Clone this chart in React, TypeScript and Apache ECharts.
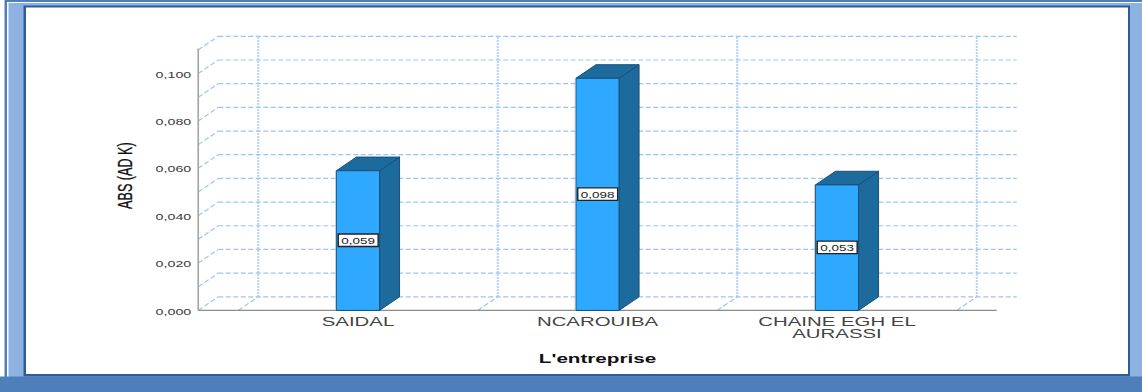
import React, { useEffect, useRef } from "react";
import * as echarts from "echarts";

// Company means of ABS (AD K)
const categories = ["SAIDAL", "NCAROUIBA", "CHAINE EGH EL\nAURASSI"];
const values = [0.059, 0.098, 0.053];
const yLabelTicks = [0, 0.02, 0.04, 0.06, 0.08, 0.1];
const wallTicks = [0, 0.01, 0.02, 0.03, 0.04, 0.05, 0.06, 0.07, 0.08, 0.09, 0.1, 0.11];
const yTitle = "ABS (AD K)";
const xTitle = "L'entreprise";

// Oblique offset of the 3D box and of the back wall
const DX = 20;
const DY = 13.6;
const SIDE_PAD = 40;
const FONT = '"Liberation Sans", Arial, sans-serif';

const fmt = (v: number) => v.toFixed(3).replace(".", ",");

const wallDash = { stroke: "#9CC4F6", lineWidth: 1.2, lineDash: [5, 2.5] };
const wallDot = { stroke: "#9CC4F6", lineWidth: 2, lineDash: [1.6, 1.4] };

const line = (x1: number, y1: number, x2: number, y2: number, style: any) => ({
  type: "line",
  shape: { x1, y1, x2, y2 },
  style: { fill: null, ...style },
});

// Stretched label: Liberation Sans widened horizontally
const label = (
  text: string,
  x: number,
  y: number,
  size: number,
  scaleX: number,
  align: string,
  color: string,
  weight = "normal",
) => ({
  type: "text",
  x,
  y,
  scaleX,
  style: {
    text,
    fill: color,
    font: `${weight} ${size}px ${FONT}`,
    align,
    verticalAlign: "middle",
  },
});

function renderWalls(params: any, api: any) {
  if (params.dataIndex !== 0) return { type: "group", children: [] };
  const [x0] = api.coord([0, 0]);
  const band = api.size([1, 0])[0];
  const left = x0 - band / 2;
  const axisX = left - SIDE_PAD;
  const right = left + band * categories.length;
  const yBase = api.coord([0, 0])[1];
  const yTop = api.coord([0, 0.11])[1];
  const children: any[] = [];
  wallTicks.forEach((t) => {
    const y = api.coord([0, t])[1];
    children.push(line(axisX, y, axisX + DX, y - DY, wallDash));
    children.push(line(axisX + DX, y - DY, right + SIDE_PAD + DX, y - DY, wallDash));
  });
  for (let i = 0; i <= categories.length; i++) {
    const x = left + band * i;
    children.push(line(x + DX, yBase - DY, x + DX, yTop - DY, wallDot));
    children.push(line(x, yBase, x + DX, yBase - DY, wallDash));
  }
  children.push(line(axisX, yBase, right + SIDE_PAD, yBase, { stroke: "#8C8C8C", lineWidth: 1.2 }));
  children.push(line(axisX, yTop - 1.5, axisX, yBase, { stroke: "#A3A3A3", lineWidth: 1.6 }));
  yLabelTicks.forEach((t) => {
    const y = api.coord([0, t])[1];
    children.push(label(fmt(t), axisX - 7, y + 1, 9.5, 1.5, "right", "#3A3A3A"));
  });
  children.push(label(xTitle, x0 + band, 359, 12, 1.72, "center", "#111111", "bold"));
  const title = label(yTitle, 0, 0, 20, 0.63, "center", "#111111") as any;
  title.x = axisX - 73;
  title.y = (yBase + yTop) / 2 - 4.5;
  title.rotation = Math.PI / 2;
  title.style.stroke = "#111111";
  title.style.lineWidth = 0.3;
  children.push(title);
  return { type: "group", children };
}

function renderBars(params: any, api: any) {
  const i = api.value(0);
  const v = api.value(1);
  const [cx, yTop] = api.coord([i, v]);
  const yBase = api.coord([i, 0])[1];
  const halfW = api.size([1, 0])[0] * 0.09;
  const l = cx - halfW;
  const r = cx + halfW;
  const edge = "#15507C";
  const midY = (yTop + yBase) / 2;
  const names = String(categories[i]).split("\n");
  return {
    type: "group",
    children: [
      {
        type: "polygon",
        shape: { points: [[r, yTop], [r + DX, yTop - DY], [r + DX, yBase - DY], [r, yBase]] },
        style: { fill: "#1D6A9C", stroke: edge, lineWidth: 1 },
      },
      {
        type: "polygon",
        shape: { points: [[l, yTop], [l + DX, yTop - DY], [r + DX, yTop - DY], [r, yTop]] },
        style: { fill: "#1D6A9C", stroke: edge, lineWidth: 1 },
      },
      {
        type: "rect",
        shape: { x: l, y: yTop, width: r - l, height: yBase - yTop },
        style: { fill: "#2FA9FF", stroke: edge, lineWidth: 1 },
      },
      line(l - 0.8, yTop, l - 0.8, yBase, { stroke: "#B5BDC4", lineWidth: 0.8 }),
      {
        type: "rect",
        shape: { x: l + 1.8, y: midY - 6.5, width: r - l - 3.2, height: 12.5 },
        style: { fill: "#FFFFFF", stroke: "#222222", lineWidth: 1.4 },
      },
      label(fmt(v), cx, midY, 9.5, 1.42, "center", "#222222"),
      ...names.map((n, k) => label(n, cx, yBase + 12 + k * 11.5, 12, 1.7, "center", "#444444")),
    ],
  };
}

export default function App() {
  const ref = useRef<HTMLDivElement>(null);

  useEffect(() => {
    document.body.style.margin = "0";
    const chart = echarts.init(ref.current!, null, { renderer: "svg" });
    const rows = values.map((v, i) => [i, v]);
    chart.setOption({
      animation: false,
      backgroundColor: "#FFFFFF",
      graphic: [
        // Window frame around the plot area
        { type: "rect", z: -10, shape: { x: 4.5, y: 0, width: 1137.5, height: 378 }, style: { fill: "#4F7FBA" } },
        { type: "rect", z: -9, shape: { x: 7, y: 2, width: 1135, height: 375 }, style: { fill: "#FFFFFF" } },
        { type: "rect", z: -8, shape: { x: 8.5, y: 3, width: 1133.5, height: 374 }, style: { fill: "#8DB1E1" } },
        { type: "rect", z: -7, shape: { x: 23.5, y: 5.5, width: 1106.5, height: 371 }, style: { fill: "#2F5C98" } },
        { type: "rect", z: -6, shape: { x: 26, y: 7.5, width: 1102, height: 366.5 }, style: { fill: "#FFFFFF" } },
        { type: "rect", z: -5, shape: { x: 0, y: 376.5, width: 1142, height: 15.5 }, style: { fill: "#4F7FBA" } },
      ],
      grid: { left: 238.25, width: 718.5, top: 49.9, height: 260.5 },
      xAxis: {
        type: "category",
        data: categories,
        axisLine: { show: false },
        axisTick: { show: false },
        axisLabel: { show: false },
      },
      yAxis: {
        type: "value",
        min: 0,
        max: 0.11,
        interval: 0.01,
        axisLine: { show: false },
        axisTick: { show: false },
        axisLabel: { show: false },
        splitLine: { show: false },
      },
      series: [
        { type: "custom", clip: false, z: 1, data: rows, encode: { x: 0, y: 1 }, renderItem: renderWalls },
        { type: "custom", clip: false, z: 2, data: rows, encode: { x: 0, y: 1 }, renderItem: renderBars },
      ],
    });
    return () => chart.dispose();
  }, []);

  return <div ref={ref} style={{ width: 1142, height: 392 }} />;
}
